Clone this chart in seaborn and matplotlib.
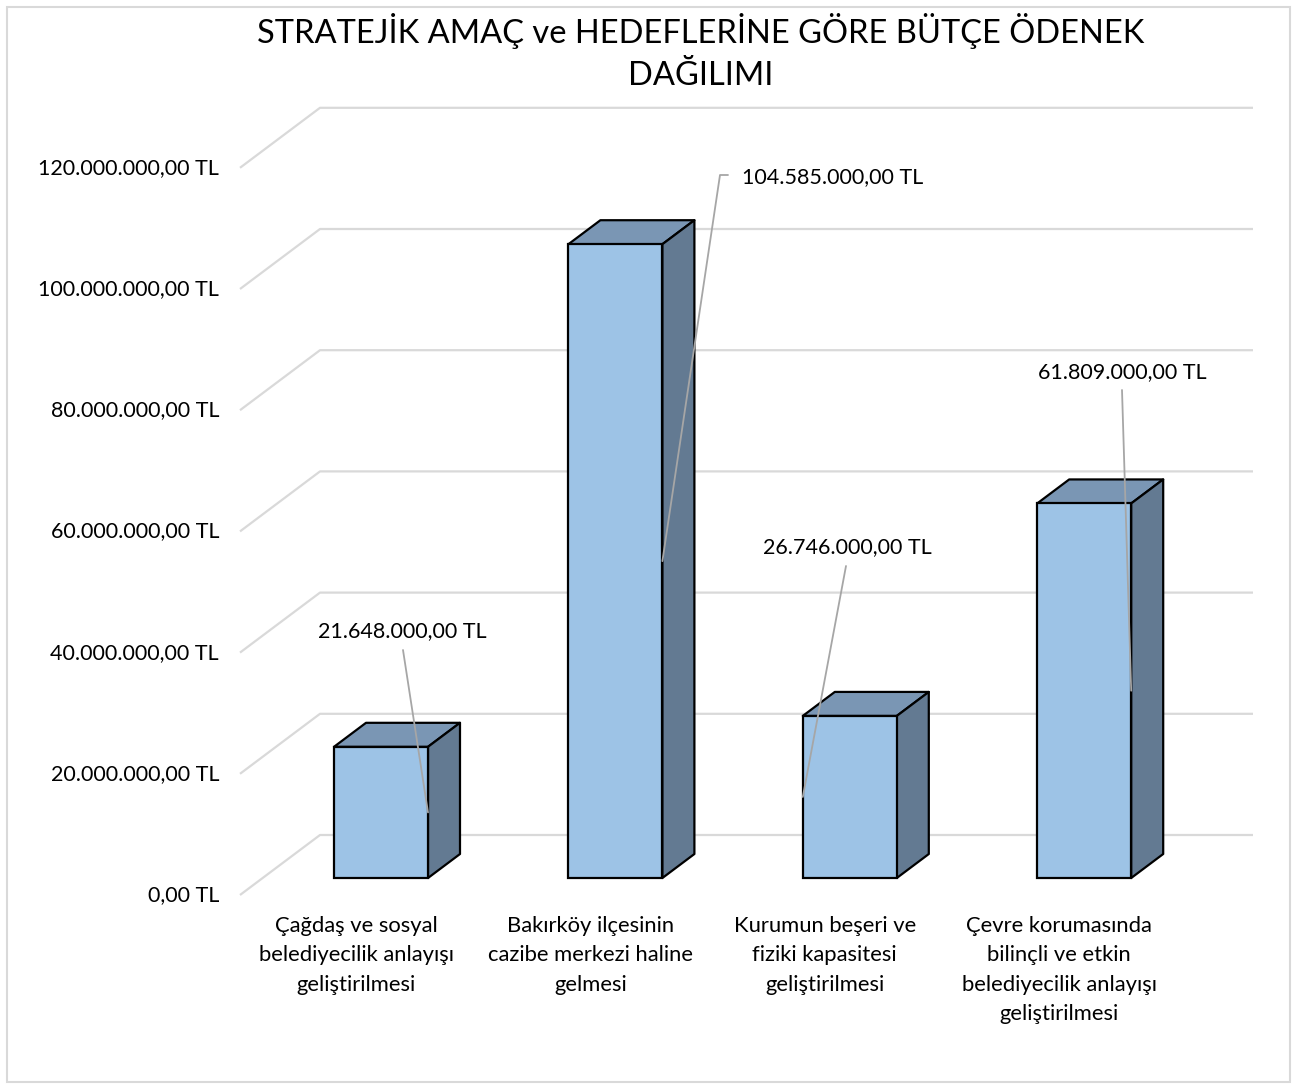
import matplotlib
matplotlib.use("Agg")
import matplotlib.pyplot as plt
from matplotlib.patches import Polygon, Rectangle
import seaborn as sns
import pandas as pd

# ---------------- data ----------------
categories = [
    "Çağdaş ve sosyal\nbelediyecilik anlayışı\ngeliştirilmesi",
    "Bakırköy ilçesinin\ncazibe merkezi haline\ngelmesi",
    "Kurumun beşeri ve\nfiziki kapasitesi\ngeliştirilmesi",
    "Çevre korumasında\nbilinçli ve etkin\nbelediyecilik anlayışı\ngeliştirilmesi",
]
values = [21648000, 104585000, 26746000, 61809000]
ticks = [0, 20000000, 40000000, 60000000, 80000000, 100000000, 120000000]
title = "STRATEJİK AMAÇ ve HEDEFLERİNE GÖRE BÜTÇE ÖDENEK\nDAĞILIMI"

# ---------------- style ----------------
sns.set_theme(style="white")
plt.rcParams["font.family"] = ["Lato", "DejaVu Sans"]

FRONT = "#9DC3E6"
TOP = "#7A96B4"
SIDE = "#637A92"
GRID = "#D9D9D9"
LEADER = "#A6A6A6"

W, H = 1298, 1088
SPACING = 234.4          # px between bar centres
FIRST = 381.0            # px of first bar centre
BASE = 878.0             # px (from top) of bar baseline
S = 6.06e-6              # px per TL
DX, DY = 32.0, 24.0      # 3-D depth offset (px)

XL0 = -FIRST / SPACING
XL1 = XL0 + W / SPACING
YL0 = -(H - BASE) / S
YL1 = BASE / S


def P(xp, yp):
    """pixel (from top-left) -> data coords"""
    return XL0 + xp / SPACING, (BASE - yp) / S


def fmt(v):
    s = f"{v:,.2f}"
    return s.replace(",", "X").replace(".", ",").replace("X", ".") + " TL"


fig = plt.figure(figsize=(W / 100, H / 100), dpi=100)
ax = fig.add_axes([0, 0, 1, 1])

df = pd.DataFrame({"cat": categories, "val": values})
sns.barplot(data=df, x="cat", y="val", color=FRONT, saturation=1,
            width=94 / SPACING, edgecolor="black", linewidth=1.6, ax=ax, zorder=5)
ax.set_xlim(XL0, XL1)
ax.set_ylim(YL0, YL1)
ax.axis("off")

# border
fig.patches.append(Rectangle((7 / W, 6 / H), (1290 - 7) / W, (1082 - 7) / H,
                             transform=fig.transFigure, fill=False,
                             edgecolor=GRID, linewidth=1.5, zorder=0))

# gridlines (back wall + floor diagonal) and tick labels
dxd = DX / SPACING
dyd = DY / S
xb_left = P(320, 0)[0]
xf_left = P(240, 0)[0]
x_right = P(1253, 0)[0]
back_off = 43 / S
front_off = -17 / S
for t in ticks:
    ax.plot([xf_left, xb_left, x_right], [t + front_off, t + back_off, t + back_off],
            color=GRID, lw=1.6, zorder=1, solid_capstyle="butt")
    ax.text(P(219, 0)[0], t + front_off, fmt(t), ha="right", va="center",
            fontsize=15.5, color="black")

# 3-D faces
bars = [p for p in ax.patches if isinstance(p, Rectangle)][:len(values)]
for b in bars:
    x0, w, h = b.get_x(), b.get_width(), b.get_height()
    top = Polygon([(x0, h), (x0 + dxd, h + dyd), (x0 + w + dxd, h + dyd), (x0 + w, h)],
                  closed=True, facecolor=TOP, edgecolor="black", lw=1.6, zorder=4,
                  joinstyle="round")
    side = Polygon([(x0 + w, 0), (x0 + w + dxd, dyd), (x0 + w + dxd, h + dyd), (x0 + w, h)],
                   closed=True, facecolor=SIDE, edgecolor="black", lw=1.6, zorder=4,
                   joinstyle="round")
    ax.add_patch(top)
    ax.add_patch(side)

# data labels with leader lines
label_pos = [(402, 631), (833, 177), (847, 547), (1122, 372)]
leader_start = [(403, 650), (720, 175), (846, 566), (1122, 390)]
leader_edge = ["right", "right", "left", "right"]
for i, (b, v) in enumerate(zip(bars, values)):
    lx, ly = P(*label_pos[i])
    ax.text(lx, ly, fmt(v), ha="center", va="center", fontsize=15.5, color="black", zorder=8)
    sx, sy = P(*leader_start[i])
    ex = b.get_x() + (b.get_width() if leader_edge[i] == "right" else 0)
    ey = v / 2
    xs, ys = [sx, ex], [sy, ey]
    if i == 1:
        hx, _ = P(728, 175)
        xs, ys = [hx, sx, ex], [sy, sy, ey]
    ax.plot(xs, ys, color=LEADER, lw=1.3, zorder=7)

# category labels
for b, c in zip(bars, categories):
    cx = b.get_x() + b.get_width() / 2 - 25 / SPACING
    for k, line in enumerate(c.split("\n")):
        ax.text(cx, P(0, 926 + 29.3 * k)[1], line, ha="center", va="center",
                fontsize=15.8, color="black")

# title
for k, line in enumerate(title.split("\n")):
    tx, ty = P(701, 31 + 45 * k)
    ax.text(tx, ty, line, ha="center", va="center", fontsize=23.5, color="black")

fig.savefig("out.png", dpi=100)
